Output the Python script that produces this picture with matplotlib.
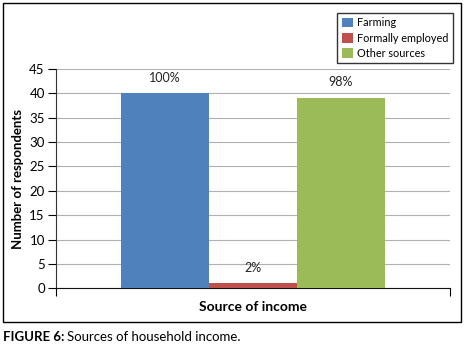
import matplotlib.pyplot as plt
from matplotlib.patches import Rectangle

plt.rcParams['font.family'] = ['Lato', 'DejaVu Sans']

# Data
sources = ['Farming', 'Formally employed', 'Other sources']
respondents = [40, 1, 39]
pct_labels = ['100%', '2%', '98%']
colors = ['#4F81BD', '#C0504D', '#9BBB59']
y_ticks = [0, 5, 10, 15, 20, 25, 30, 35, 40, 45]

fig = plt.figure(figsize=(4.66, 3.46), dpi=100)
ax = fig.add_axes([0.120, 0.1668, 0.846, 0.634])

xpos = [-1, 0, 1]
for x, v, c, name in zip(xpos, respondents, colors, sources):
    ax.bar(x, v, width=1.0, color=c, label=name, zorder=3)

for x, v, lab in zip(xpos, respondents, pct_labels):
    ax.text(x, v + 2.0, lab, ha='center', va='bottom', fontsize=9, color='#222222')

ax.set_xlim(-2.24, 2.24)
ax.set_ylim(0, 45)
ax.set_yticks(y_ticks)
ax.tick_params(axis='y', labelsize=9.5, length=6, width=0.8, direction='out', pad=2)
ax.set_xticks([-2.24, 2.24])
ax.set_xticklabels(['', ''])
ax.tick_params(axis='x', length=6, width=0.8, direction='out')
ax.grid(axis='y', color='#B0B0B0', linewidth=0.8, zorder=0)
ax.set_axisbelow(True)
for s in ['top', 'right']:
    ax.spines[s].set_visible(False)
ax.spines['left'].set_color('#333333')
ax.spines['bottom'].set_color('#111111')

ax.set_ylabel('Number of respondents', fontsize=9.5, fontweight='bold', labelpad=4)
ax.set_xlabel('Source of income', fontsize=10, fontweight='bold', labelpad=0)

leg = fig.legend(loc='upper right', bbox_to_anchor=(0.983, 0.978), fontsize=7.8,
                 frameon=True, fancybox=False, handlelength=1.0, handleheight=1.0,
                 handletextpad=0.4, borderpad=0.4, labelspacing=0.4)
leg.get_frame().set_edgecolor('black')
leg.get_frame().set_linewidth(1.0)

# outer frame around chart
fig.patches.append(Rectangle((3 / 466, 1 - 322 / 346), 458 / 466, 319 / 346,
                             transform=fig.transFigure, fill=False,
                             edgecolor='black', linewidth=1.0))

fig.text(3 / 466, 1 - 337 / 346, 'FIGURE 6:', fontsize=9.5, fontweight='bold',
         va='center', ha='left')
fig.text(67 / 466, 1 - 337 / 346, 'Sources of household income.', fontsize=9.5,
         va='center', ha='left')

fig.savefig('out.png', dpi=100)
